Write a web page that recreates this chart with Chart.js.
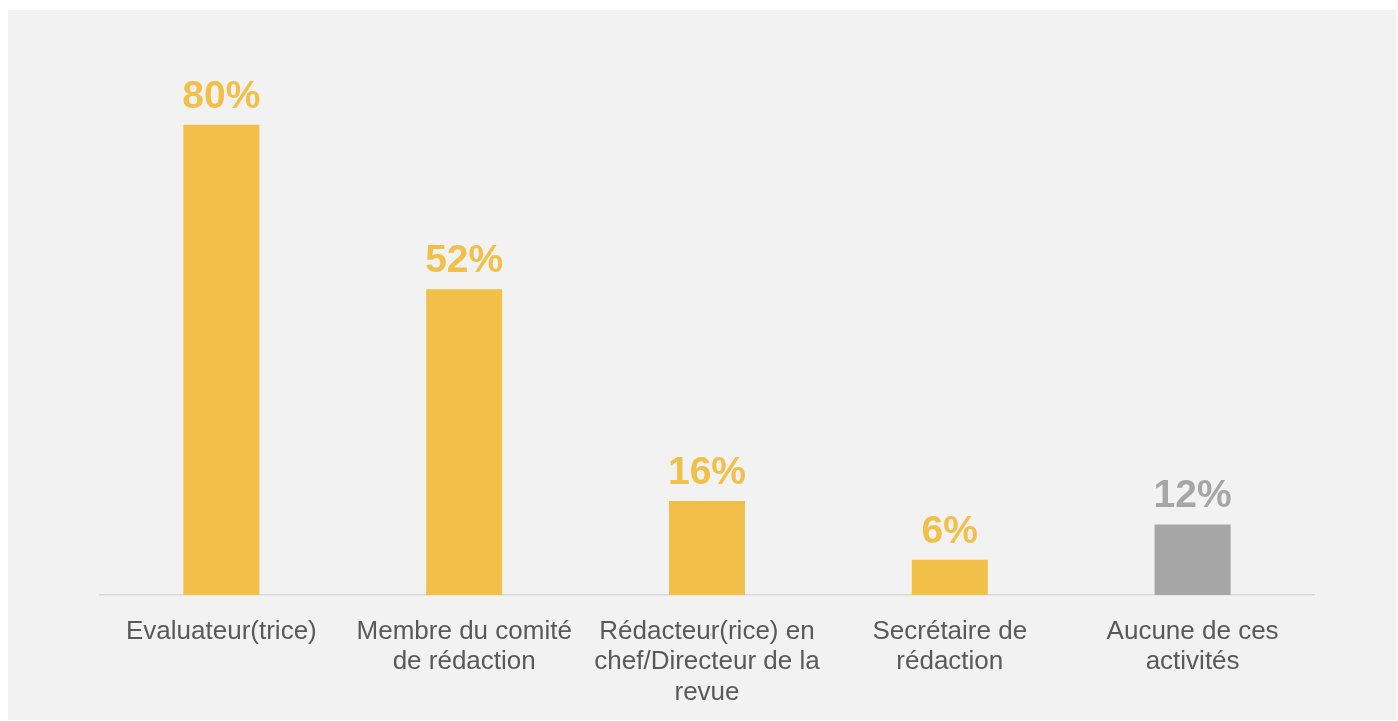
<!DOCTYPE html>
<html>
<head>
<meta charset="utf-8">
<script src="https://cdn.jsdelivr.net/npm/chart.js@4"></script>
<style>
  html, body { margin: 0; padding: 0; background: #ffffff; }
  #cadre {
    position: absolute; left: 8px; top: 10px;
    width: 1388px; height: 710px;
    background: #f2f2f2;
  }
</style>
</head>
<body>
<div id="cadre"><canvas id="activites"></canvas></div>
<script>
// categories et valeurs
var categories = [
  ["Evaluateur(trice)"],
  ["Membre du comité", "de rédaction"],
  ["Rédacteur(rice) en", "chef/Directeur de la", "revue"],
  ["Secrétaire de", "rédaction"],
  ["Aucune de ces", "activités"]
];
var valeurs = [80, 52, 16, 6, 12];
var couleurs = ["#f2bf49", "#f2bf49", "#f2bf49", "#f2bf49", "#a6a6a6"];

// etiquettes de pourcentage au-dessus des barres
var etiquettes = {
  id: "etiquettes",
  afterDatasetsDraw: function (chart) {
    var ctx = chart.ctx;
    var meta = chart.getDatasetMeta(0);
    ctx.save();
    ctx.font = "bold 39px 'Liberation Sans', Arial, sans-serif";
    ctx.textAlign = "center";
    ctx.textBaseline = "alphabetic";
    meta.data.forEach(function (barre, i) {
      ctx.fillStyle = couleurs[i];
      ctx.fillText(valeurs[i] + "%", barre.x, barre.y - 17);
    });
    ctx.restore();
  }
};

var ctx = document.getElementById("activites");
new Chart(ctx, {
  type: "bar",
  data: {
    labels: categories,
    datasets: [
      {
        data: valeurs,
        backgroundColor: couleurs,
        borderWidth: 0,
        barPercentage: 0.313,
        categoryPercentage: 1
      }
    ]
  },
  options: {
    responsive: true,
    maintainAspectRatio: false,
    animation: false,
    layout: {
      padding: { left: 92, right: 82, top: 56, bottom: 0 }
    },
    plugins: {
      legend: { display: false },
      tooltip: { enabled: false }
    },
    scales: {
      x: {
        grid: { display: false },
        border: { display: true, color: "#d9d9d9", width: 1.5 },
        ticks: {
          color: "#595959",
          padding: 13,
          maxRotation: 0,
          autoSkip: false,
          font: { family: "'Liberation Sans', Arial, sans-serif", size: 26, lineHeight: 1.18 }
        },
        afterFit: function (scale) {
          scale.height = 125;
        }
      },
      y: {
        display: false,
        min: 0,
        max: 90
      }
    }
  },
  plugins: [etiquettes]
});
</script>
</body>
</html>
